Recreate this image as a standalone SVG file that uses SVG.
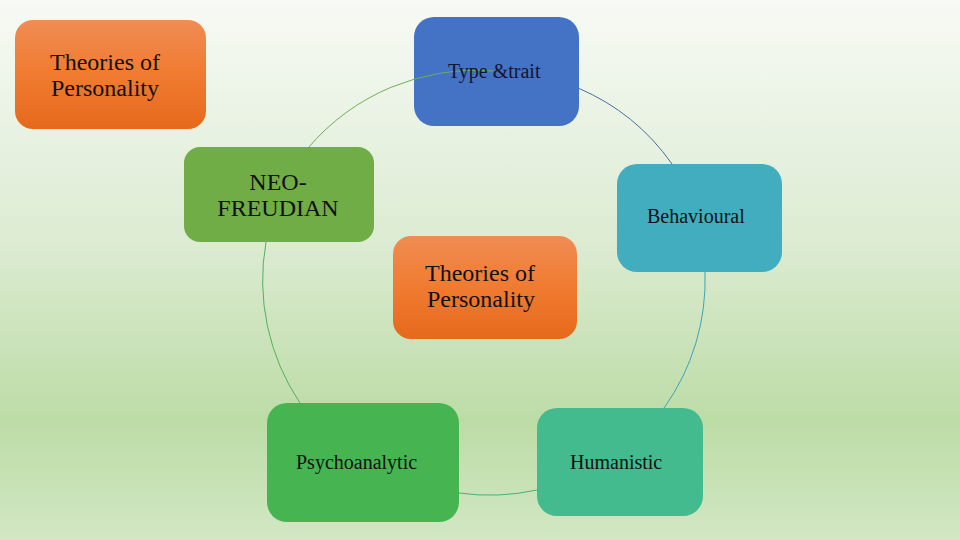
<svg xmlns="http://www.w3.org/2000/svg" width="960" height="540" viewBox="0 0 960 540">
  <defs>
    <linearGradient id="bg" x1="0" y1="0" x2="0" y2="1">
      <stop offset="0" stop-color="#f7faf5"/>
      <stop offset="0.45" stop-color="#dcebd2"/>
      <stop offset="0.78" stop-color="#bcdca6"/>
      <stop offset="1" stop-color="#d2e7c4"/>
    </linearGradient>
    <linearGradient id="orange" x1="0" y1="0" x2="0" y2="1">
      <stop offset="0" stop-color="#f08c54"/>
      <stop offset="0.5" stop-color="#f07b30"/>
      <stop offset="1" stop-color="#e6691c"/>
    </linearGradient>
    <style>
      text { font-family: 'Liberation Serif', 'DejaVu Serif', serif; fill: #111; }
      .big { font-size: 24px; }
      .small { font-size: 20px; }
      .conn { fill: none; stroke-width: 1; }
    </style>
  </defs>
  <rect x="0" y="0" width="960" height="540" fill="url(#bg)"/>

  <g id="title">
    <rect x="15" y="20" width="191" height="109" rx="18" fill="url(#orange)"/>
    <text class="big" font-family="Liberation Serif, serif" x="50" y="70">Theories of</text>
    <text class="big" font-family="Liberation Serif, serif" x="51" y="96">Personality</text>
  </g>

  <g id="type-trait">
    <rect x="414" y="17" width="165" height="109" rx="20" fill="#4472c4"/>
  </g>

  <g id="connectors">
    <path class="conn" stroke="#6fae5a" d="M308,148 A220,220 0 0 1 493,71"/>
    <path class="conn" stroke="#4a6f9e" d="M578,88 A220,220 0 0 1 672,164"/>
    <path class="conn" stroke="#40a3b4" d="M705,272 A220,220 0 0 1 664,408"/>
    <path class="conn" stroke="#48ae82" d="M537,490 A220,220 0 0 1 459,493"/>
    <path class="conn" stroke="#55b060" d="M300,403 A220,220 0 0 1 266,242"/>
  </g>

  <g id="type-trait-label">
    <text class="small" font-family="Liberation Serif, serif" x="448" y="78" style="fill:#141436">Type &amp;trait</text>
  </g>

  <g id="neo-freudian">
    <rect x="184" y="147" width="190" height="95" rx="16" fill="#70ad47"/>
    <text class="big" font-family="Liberation Serif, serif" x="278" y="190" text-anchor="middle">NEO-</text>
    <text class="big" font-family="Liberation Serif, serif" x="278" y="216" text-anchor="middle">FREUDIAN</text>
  </g>

  <g id="behavioural">
    <rect x="617" y="164" width="165" height="108" rx="20" fill="#43adc0"/>
    <text class="small" font-family="Liberation Serif, serif" x="647" y="223">Behavioural</text>
  </g>

  <g id="center">
    <rect x="393" y="236" width="184" height="103" rx="18" fill="url(#orange)"/>
    <text class="big" font-family="Liberation Serif, serif" x="425" y="281">Theories of</text>
    <text class="big" font-family="Liberation Serif, serif" x="427" y="307">Personality</text>
  </g>

  <g id="psychoanalytic">
    <rect x="267" y="403" width="192" height="119" rx="20" fill="#47b452"/>
    <text class="small" font-family="Liberation Serif, serif" x="296" y="469">Psychoanalytic</text>
  </g>

  <g id="humanistic">
    <rect x="537" y="408" width="166" height="108" rx="20" fill="#43bb8e"/>
    <text class="small" font-family="Liberation Serif, serif" x="570" y="469">Humanistic</text>
  </g>
</svg>
